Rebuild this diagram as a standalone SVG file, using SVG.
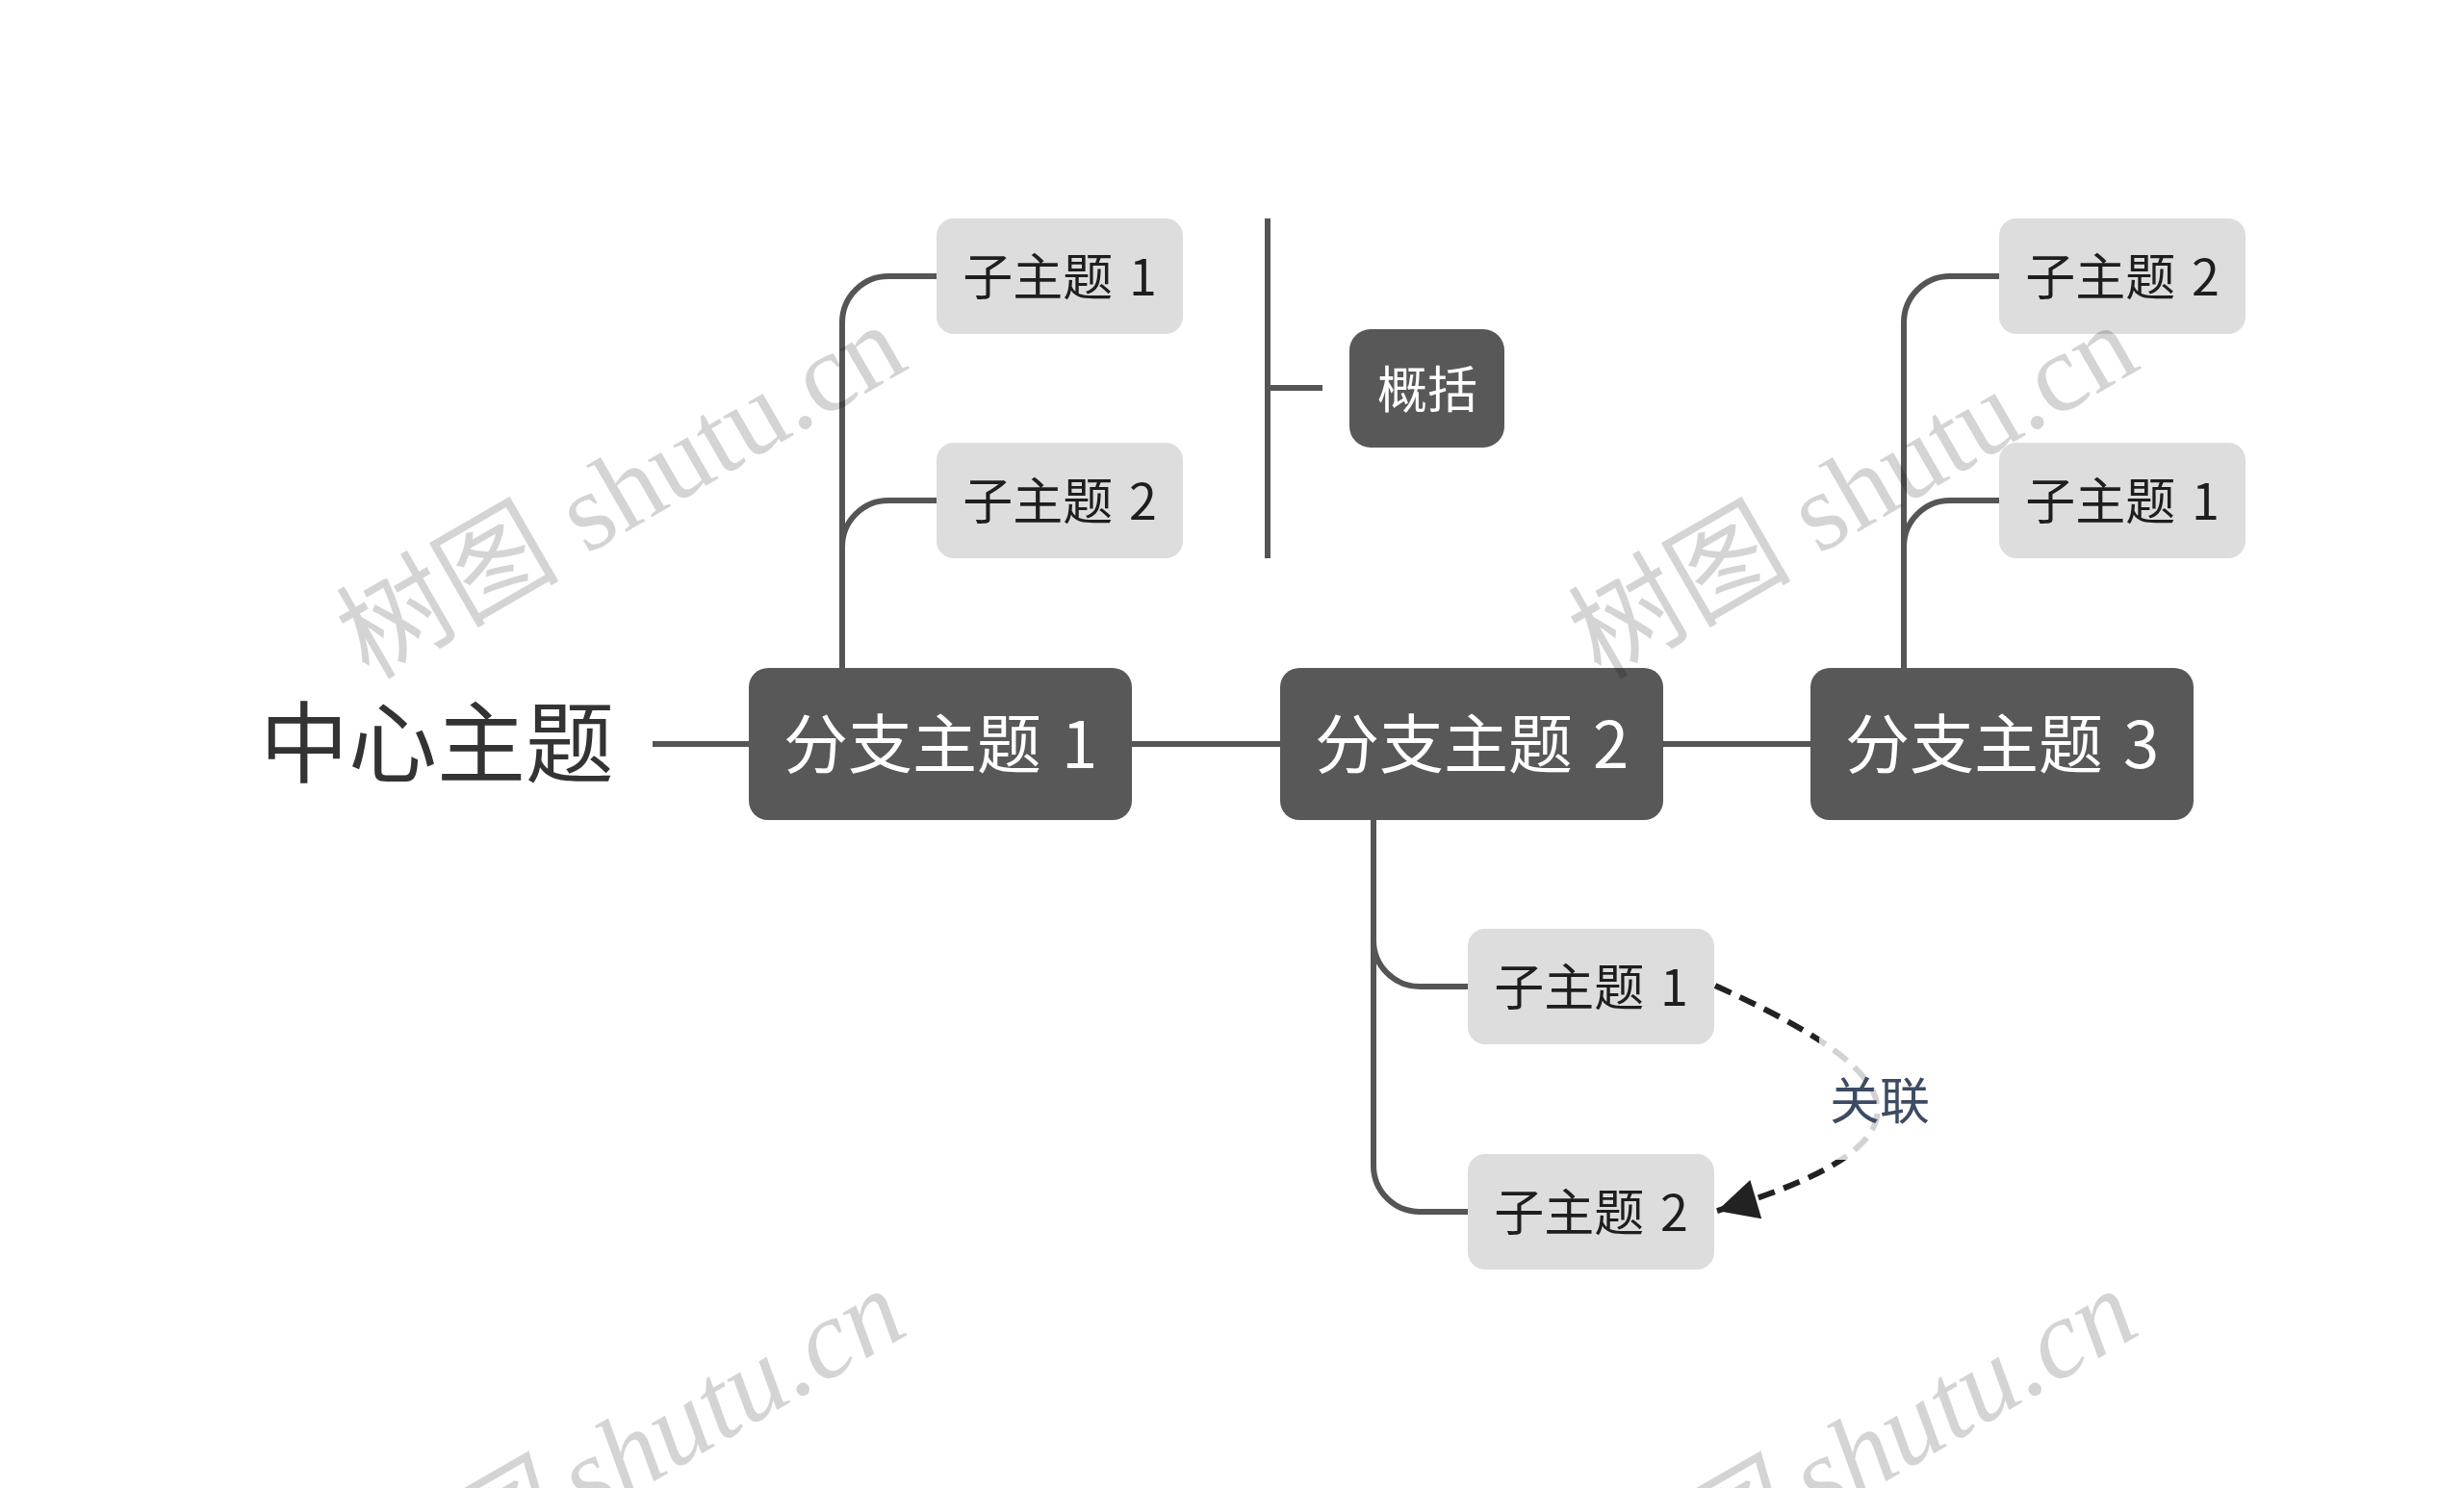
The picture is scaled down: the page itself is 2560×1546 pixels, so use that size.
<svg xmlns="http://www.w3.org/2000/svg" width="2560" height="1546" viewBox="0 0 2560 1546">
  <defs>
    <style>
      .conn { fill: none; stroke: #555555; stroke-width: 6; stroke-linecap: butt; }
      .branch rect { fill: #585858; }
      .branch text { fill: #ffffff; font-size: 67px; word-spacing: 6px; }
      .sub rect { fill: #dddddd; }
      .sub text { fill: #1e1e1e; font-size: 52px; word-spacing: 5px; }
      .summary rect { fill: #585858; }
      .summary text { fill: #ffffff; font-size: 52px; }
      text { font-family: "Noto Sans CJK SC", "Noto Sans", sans-serif; text-anchor: middle; }
      .rel { fill: none; stroke: #222222; stroke-width: 6; stroke-dasharray: 18 10; }
      .wm { font-family: "Liberation Serif", "Noto Sans CJK SC", serif; font-size: 116px; fill: #000000; fill-opacity: 0.17; text-anchor: start; }
    </style>
    <marker id="arrow" markerUnits="userSpaceOnUse" markerWidth="48" markerHeight="48" viewBox="0 0 48 48" refX="44" refY="24" orient="auto">
      <path d="M2,3 L44,24 L2,45 z" fill="#222222"/>
    </marker>
  </defs>
  <rect x="0" y="0" width="2560" height="1546" fill="#ffffff"/>

  <g id="connectors">
    <path class="conn" d="M678,773 H778"/>
    <path class="conn" d="M1176,773 H1330"/>
    <path class="conn" d="M1728,773 H1881"/>
    <!-- branch 1 children -->
    <path class="conn" d="M875,694 V335 A48,48 0 0 1 923,287 H973"/>
    <path class="conn" d="M875,568 A48,48 0 0 1 923,520 H973"/>
    <!-- branch 3 children -->
    <path class="conn" d="M1978,694 V335 A48,48 0 0 1 2026,287 H2077"/>
    <path class="conn" d="M1978,568 A48,48 0 0 1 2026,520 H2077"/>
    <!-- branch 2 children -->
    <path class="conn" d="M1427,852 V1211 A48,48 0 0 0 1475,1259 H1525"/>
    <path class="conn" d="M1427,977 A48,48 0 0 0 1475,1025 H1525"/>
    <!-- summary bracket -->
    <path class="conn" d="M1317,227 V580 M1317,403 H1374"/>
  </g>

  <g id="central">
    <text x="454" y="806" style="font-size:92px; fill:#333333">中心主题</text>
  </g>

  <g id="branch1" class="branch">
    <rect x="778" y="694" width="398" height="158" rx="20"/>
    <text x="977" y="798">分支主题 1</text>
  </g>
  <g id="branch2" class="branch">
    <rect x="1330" y="694" width="398" height="158" rx="20"/>
    <text x="1529" y="798">分支主题 2</text>
  </g>
  <g id="branch3" class="branch">
    <rect x="1881" y="694" width="398" height="158" rx="20"/>
    <text x="2080" y="798">分支主题 3</text>
  </g>

  <g id="b1-sub1" class="sub">
    <rect x="973" y="227" width="256" height="120" rx="18"/>
    <text x="1101" y="307">子主题 1</text>
  </g>
  <g id="b1-sub2" class="sub">
    <rect x="973" y="460" width="256" height="120" rx="18"/>
    <text x="1101" y="540">子主题 2</text>
  </g>
  <g id="summary" class="summary">
    <rect x="1402" y="342" width="161" height="123" rx="22"/>
    <text x="1483" y="424">概括</text>
  </g>
  <g id="b3-sub2" class="sub">
    <rect x="2077" y="227" width="256" height="120" rx="18"/>
    <text x="2205" y="307">子主题 2</text>
  </g>
  <g id="b3-sub1" class="sub">
    <rect x="2077" y="460" width="256" height="120" rx="18"/>
    <text x="2205" y="540">子主题 1</text>
  </g>
  <g id="b2-sub1" class="sub">
    <rect x="1525" y="965" width="256" height="120" rx="18"/>
    <text x="1653" y="1045">子主题 1</text>
  </g>
  <g id="b2-sub2" class="sub">
    <rect x="1525" y="1199" width="256" height="120" rx="18"/>
    <text x="1653" y="1279">子主题 2</text>
  </g>

  <g id="relationship">
    <path class="rel" d="M1782,1024 C1956,1103 2052,1179 1784,1258" marker-end="url(#arrow)"/>
    <rect x="1890" y="1078" width="125" height="127" fill="#ffffff" fill-opacity="0.8"/>
    <text x="1953" y="1163" style="font-size:52px; fill:#3d4b63">关联</text>
  </g>

  <g id="watermark">
    <text class="wm" x="383" y="707" transform="rotate(-30 383 707)">树图 shutu.cn</text>
    <text class="wm" x="1663" y="707" transform="rotate(-30 1663 707)">树图 shutu.cn</text>
    <text class="wm" x="383" y="1710" transform="rotate(-30 383 1710)" font-style="italic">树图 shutu.cn</text>
    <text class="wm" x="1663" y="1710" transform="rotate(-30 1663 1710)" font-style="italic">树图 shutu.cn</text>
  </g>
</svg>
